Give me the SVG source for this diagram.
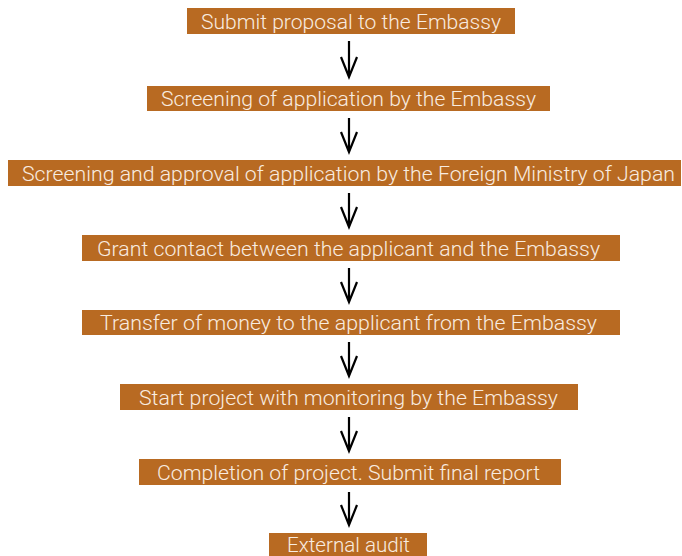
<svg xmlns="http://www.w3.org/2000/svg" width="682" height="556" viewBox="0 0 682 556">
<defs>
<style>
.box{fill:#b86a22;}
.lbl{font-family:Roboto,"Liberation Sans","DejaVu Sans",sans-serif;font-weight:300;font-size:20px;fill:#f8ece0;text-anchor:middle;}
.arr{stroke:#000;stroke-width:2.2;fill:none;}
</style>
</defs>
<rect width="682" height="556" fill="#fff"/>
<g id="connectors">
<path class="arr" d="M349,41 V77 M341,57 L349,77 L357,57"/>
<path class="arr" d="M349,118 V152 M341,132 L349,152 L357,132"/>
<path class="arr" d="M349,193 V227 M341,207 L349,227 L357,207"/>
<path class="arr" d="M349,268 V302 M341,282 L349,302 L357,282"/>
<path class="arr" d="M349,342 V376 M341,356 L349,376 L357,356"/>
<path class="arr" d="M349,417 V451 M341,431 L349,451 L357,431"/>
<path class="arr" d="M349,492 V525 M341,505 L349,525 L357,505"/>
</g>
<g id="n1"><rect class="box" x="187" y="8" width="328" height="26"/><text class="lbl" x="351" y="29" textLength="300" lengthAdjust="spacingAndGlyphs">Submit proposal to the Embassy</text></g>
<g id="n2"><rect class="box" x="147" y="86" width="403" height="25"/><text class="lbl" x="348.5" y="106" textLength="375" lengthAdjust="spacingAndGlyphs">Screening of application by the Embassy</text></g>
<g id="n3"><rect class="box" x="8" y="160" width="673" height="26"/><text class="lbl" x="348.5" y="181" textLength="653" lengthAdjust="spacingAndGlyphs">Screening and approval of application by the Foreign Ministry of Japan</text></g>
<g id="n4"><rect class="box" x="82" y="235" width="538" height="26"/><text class="lbl" x="348.5" y="256" textLength="503" lengthAdjust="spacingAndGlyphs">Grant contact between the applicant and the Embassy</text></g>
<g id="n5"><rect class="box" x="82" y="310" width="538" height="25"/><text class="lbl" x="348.5" y="330" textLength="497" lengthAdjust="spacingAndGlyphs">Transfer of money to the applicant from the Embassy</text></g>
<g id="n6"><rect class="box" x="120" y="384" width="458" height="26"/><text class="lbl" x="348.5" y="405" textLength="419" lengthAdjust="spacingAndGlyphs">Start project with monitoring by the Embassy</text></g>
<g id="n7"><rect class="box" x="139" y="459" width="422" height="26"/><text class="lbl" x="348.5" y="480" textLength="383" lengthAdjust="spacingAndGlyphs">Completion of project. Submit final report</text></g>
<g id="n8"><rect class="box" x="269" y="533" width="158" height="23"/><text class="lbl" x="348.5" y="552" textLength="123" lengthAdjust="spacingAndGlyphs">External audit</text></g>
</svg>
